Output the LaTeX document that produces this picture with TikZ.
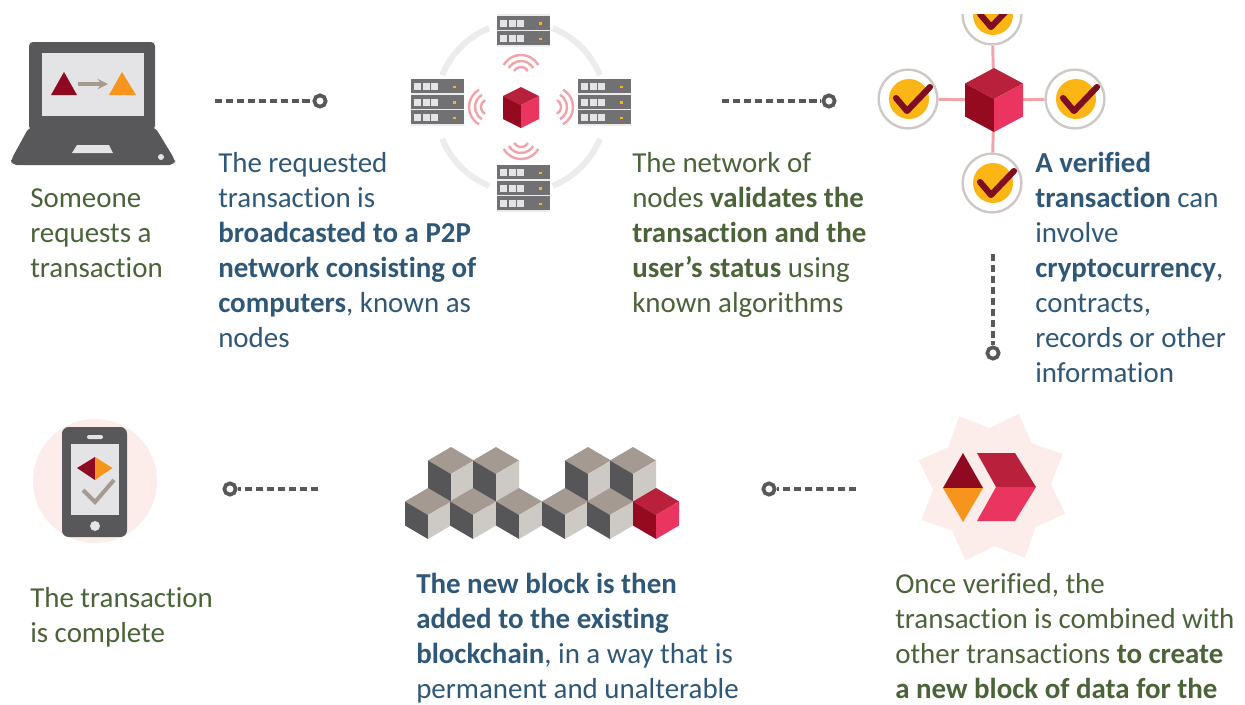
\documentclass[tikz,border=0pt]{standalone}
\usepackage{fontspec}
\usepackage{tikz}
\setmainfont[Ligatures=CommonOff]{Carlito}

\definecolor{txtgreen}{HTML}{4B6338}
\definecolor{txtblue}{HTML}{2F5878}
\definecolor{darkgrey}{HTML}{58585A}
\definecolor{screengrey}{HTML}{E4E4E6}
\definecolor{ringgrey}{HTML}{ECECEC}
\definecolor{wavepink}{HTML}{F0A3A8}
\definecolor{softpink}{HTML}{FCEDEB}
\definecolor{deepred}{HTML}{8F0A20}
\definecolor{brightorange}{HTML}{F7941D}
\definecolor{arrowtan}{HTML}{A59A92}
\definecolor{chkyellow}{HTML}{FBB615}
\definecolor{chkred}{HTML}{7E0F22}
\definecolor{chkring}{HTML}{CFC9C6}
\definecolor{redtop}{HTML}{B9203B}
\definecolor{redleft}{HTML}{960A20}
\definecolor{redright}{HTML}{E93560}
\definecolor{greytop}{HTML}{A59A92}
\definecolor{greyleft}{HTML}{565658}
\definecolor{greyright}{HTML}{CDC9C5}

\tikzset{
    txt/.style={anchor=north west, inner sep=0pt, align=left, font=\fontsize{21.7}{26.25}\selectfont},
    dashline/.style={darkgrey, line width=2.6pt, dash pattern=on 5.4pt off 2.8pt},
    ringdot/.style={circle, draw=darkgrey, line width=2.8pt, fill=white, inner sep=0pt, minimum size=8.5pt},
    spoke/.style={wavepink, line width=2.2pt},
    badge/.style={circle, draw=chkring, line width=1.8pt, fill=white, inner sep=0pt, minimum size=44pt},
    wave/.style={wavepink, line width=1.8pt},
}

% center vertex x y, half width, top quarter, side height, colour prefix
\newcommand{\cube}[6]{
    \fill[#6top] (#1,#2) -- (#1-#3,#2-#4) -- (#1,#2-2*#4) -- (#1+#3,#2-#4) -- cycle;
    \fill[#6left] (#1,#2) -- (#1-#3,#2-#4) -- (#1-#3,#2-#4+#5) -- (#1,#2+#5) -- cycle;
    \fill[#6right] (#1,#2) -- (#1+#3,#2-#4) -- (#1+#3,#2-#4+#5) -- (#1,#2+#5) -- cycle;
}
% top left corner x y of a rack
\newcommand{\rack}[2]{
    \begin{scope}[shift={(#1,#2)}]
        \fill[darkgrey!85] (0,0) rectangle (53,47);
        \foreach \r in {0,1,2} {
            \fill[screengrey!70] (0,14+15.5*\r) rectangle (53,15.5+15.5*\r);
            \foreach \c in {0,1,2}
                \fill[screengrey] (3+8.5*\c,4+15.5*\r) rectangle (10+8.5*\c,11+15.5*\r);
            \fill[chkyellow] (42,6.5+15.5*\r) rectangle (44.5,9+15.5*\r);
        }
    \end{scope}
}
% direction of the wave set around the red cube
\newcommand{\waves}[1]{
    \begin{scope}[shift={(521,107)}, rotate=#1]
        \foreach \a in {8,14,20}
            \draw[wave] (-32,0) ++(120:\a) arc (120:240:\a);
    \end{scope}
}
% badge center x y
\newcommand{\tick}[2]{
    \fill[chkyellow] (#1+1,#2) circle (20);
    \draw[chkred, line width=4.6pt, line cap=round, line join=round] (#1-12,#2-1) -- (#1-1,#2+12) -- (#1+22,#2-12);
}

\begin{document}
\begin{tikzpicture}[x=0.75pt, y=-0.75pt]
    \useasboundingbox (0,0) rectangle (1245,704);
    \fill[white] (0,0) rectangle (1245,704);

    \begin{scope}
        \clip (0,14) rectangle (1245,704);

        % laptop
        \fill[darkgrey, rounded corners=3] (29,42) rectangle (155,130);
        \fill[darkgrey, rounded corners=4] (29,127) -- (155,127) -- (175,160) -- (175,165) -- (11,165) -- (11,160) -- cycle;
        \fill[screengrey] (42,53) rectangle (144,116);
        \fill[screengrey] (77,145) -- (109,145) -- (113,153) -- (72,153) -- cycle;
        \fill[screengrey] (161,157) circle (3);
        \fill[deepred] (51,95) -- (77,95) -- (64,72) -- cycle;
        \fill[brightorange] (109,95) -- (136,95) -- (122,72) -- cycle;
        \draw[arrowtan, line width=2.4pt, -stealth] (78,84) -- (108,84);

        % network of racks
        \foreach \a in {22,112,202,292}
            \draw[ringgrey, line width=4.5pt] (521,107) ++(\a:85) arc (\a:\a+46:85);
        \rack{497}{0}
        \rack{411}{79}
        \rack{578}{79}
        \rack{497}{165}
        \foreach \d in {0,90,180,270} {
            \waves{\d}
        }
        \cube{521}{105}{18}{9}{23}{red}

        % verified badges
        \coordinate (hub) at (994,100);
        \node[badge] (chkN) at (992,15) {};
        \node[badge] (chkW) at (908,99) {};
        \node[badge] (chkE) at (1075,99) {};
        \node[badge] (chkS) at (992,183) {};
        \draw[spoke] (chkN) -- (hub);
        \draw[spoke] (chkW) -- (hub);
        \draw[spoke] (chkE) -- (hub);
        \draw[spoke] (chkS) -- (hub);
        \tick{992}{15}
        \tick{908}{99}
        \tick{1075}{99}
        \tick{992}{183}
        \cube{994}{99}{29}{15.5}{33}{red}
    \end{scope}

    % phone
    \fill[softpink] (95,481) circle (62);
    \fill[darkgrey, rounded corners=5] (62,427) rectangle (127,537);
    \fill[screengrey] (70.5,444) rectangle (119,515);
    \fill[screengrey, rounded corners=1.5] (87,435) rectangle (103,439);
    \fill[screengrey] (95,526) circle (5);
    \fill[deepred] (77,468) -- (95,457) -- (95,480) -- cycle;
    \fill[brightorange] (112.5,468) -- (95,457) -- (95,480) -- cycle;
    \draw[arrowtan, line width=3pt] (83,490) -- (95,502) -- (114,480);

    % chain of blocks
    \foreach \x in {451,496,588,633} {
        \cube{\x}{474}{23}{13.5}{37}{grey}
    }
    \foreach \x in {428,473,519,565,610} {
        \cube{\x}{515}{23}{13.5}{24}{grey}
    }
    \cube{656}{515}{23}{13.5}{24}{red}

    % new block mark
    \fill[softpink] plot[samples at={0,...,15}, variable=\k]
        ({992+(mod(\k,2)==0?78:59)*cos(70-22.5*\k)},{487-(mod(\k,2)==0?78:59)*sin(70-22.5*\k)}) -- cycle;
    \fill[deepred] (963,453) -- (943,488) -- (983,488) -- cycle;
    \fill[brightorange] (963,522) -- (943,488) -- (983,488) -- cycle;
    \fill[redtop] (977,453) -- (1015,453) -- (1036,487) -- (996,487) -- cycle;
    \fill[redright] (977,521) -- (1015,521) -- (1036,487) -- (996,487) -- cycle;

    % connectors
    \coordinate (dashA) at (215,101);
    \node[ringdot] (dotA) at (320,101) {};
    \draw[dashline] (dashA) -- (dotA);
    \coordinate (dashB) at (722,101);
    \node[ringdot] (dotB) at (829,101) {};
    \draw[dashline] (dashB) -- (dotB);
    \coordinate (dashC) at (993,254);
    \node[ringdot] (dotC) at (993,353) {};
    \draw[dashline] (dashC) -- (dotC);
    \coordinate (dashD) at (318,489);
    \node[ringdot] (dotD) at (230,489) {};
    \draw[dashline] (dashD) -- (dotD);
    \coordinate (dashE) at (856,489);
    \node[ringdot] (dotE) at (769,489) {};
    \draw[dashline] (dashE) -- (dotE);

    % texts
    \node[txt, txtgreen] (stepone) at (30,188) {Someone\\requests a\\transaction};
    \node[txt, txtblue] (steptwo) at (218,152) {The requested\\transaction is\\\textbf{broadcasted to a P2P}\\\textbf{network consisting of}\\\textbf{computers}, known as\\nodes};
    \node[txt, txtgreen] (stepthree) at (632,152) {The network of\\nodes \textbf{validates the}\\\textbf{transaction and the}\\\textbf{user's status} using\\known algorithms};
    \node[txt, txtblue] (stepfour) at (1035,152) {\textbf{A verified}\\\textbf{transaction} can\\involve\\\textbf{cryptocurrency},\\contracts,\\records or other\\information};
    \node[txt, txtgreen] (stepseven) at (30,587) {The transaction\\is complete};
    \node[txt, txtblue] (stepsix) at (416,573) {\textbf{The new block is then}\\\textbf{added to the existing}\\\textbf{blockchain}, in a way that is\\permanent and unalterable};
    \node[txt, txtgreen] (stepfive) at (895,573) {Once verified, the\\transaction is combined with\\other transactions \textbf{to create}\\\textbf{a new block of data for the}};
\end{tikzpicture}
\end{document}
